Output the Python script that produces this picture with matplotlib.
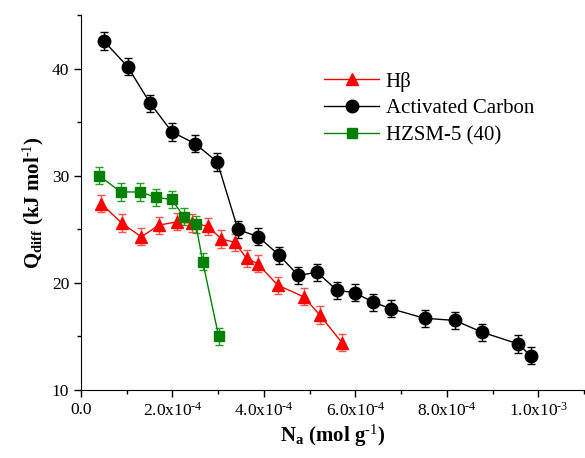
import matplotlib
matplotlib.use("Agg")
import matplotlib.pyplot as plt
from matplotlib.lines import Line2D
from matplotlib.ticker import MultipleLocator, FuncFormatter

plt.rcParams["font.family"] = ["Liberation Serif", "DejaVu Serif"]
plt.rcParams["mathtext.fontset"] = "custom"
plt.rcParams["mathtext.rm"] = "Liberation Serif"
plt.rcParams["mathtext.it"] = "Liberation Serif:italic"
plt.rcParams["mathtext.bf"] = "Liberation Serif:bold"

# data (x in mol/g, y in kJ/mol)
hb_x = [0.44e-4, 0.89e-4, 1.32e-4, 1.70e-4, 2.09e-4, 2.43e-4, 2.77e-4, 3.07e-4,
        3.36e-4, 3.62e-4, 3.86e-4, 4.30e-4, 4.87e-4, 5.22e-4, 5.71e-4]
hb_y = [27.4, 25.6, 24.3, 25.4, 25.7, 25.6, 25.3, 24.1,
        23.8, 22.3, 21.8, 19.8, 18.7, 17.0, 14.4]
hb_err = [0.8] * len(hb_x)

ac_x = [0.50e-4, 1.02e-4, 1.51e-4, 1.99e-4, 2.50e-4, 2.98e-4, 3.43e-4, 3.88e-4,
        4.33e-4, 4.75e-4, 5.16e-4, 5.60e-4, 5.98e-4, 6.39e-4, 6.77e-4, 7.51e-4,
        8.17e-4, 8.77e-4, 9.56e-4, 9.83e-4]
ac_y = [42.6, 40.2, 36.8, 34.1, 33.0, 31.3, 25.0, 24.3,
        22.6, 20.7, 21.0, 19.3, 19.1, 18.2, 17.6, 16.7,
        16.5, 15.4, 14.3, 13.2]
ac_err = [0.8] * len(ac_x)

hz_x = [0.40e-4, 0.87e-4, 1.30e-4, 1.63e-4, 1.98e-4, 2.25e-4, 2.51e-4, 2.66e-4, 3.01e-4]
hz_y = [30.0, 28.5, 28.5, 28.0, 27.8, 26.2, 25.5, 22.0, 15.0]
hz_err = [0.8] * len(hz_x)

series_labels = ["H\u03b2", "Activated Carbon", "HZSM-5 (40)"]


def sci_fmt(v, pos):
    if abs(v) < 1e-12:
        return "0.0"
    exp = -4 if abs(v) < 9.5e-4 else -3
    mant = v / 10 ** exp
    return r"%.1fx10$^{\text{%d}}$" % (mant, exp)


fig = plt.figure(figsize=(5.85, 4.58), dpi=100)
ax = fig.add_axes([0.1385, 0.1485, 0.86, 0.818])

styles = [("red", "#ff5050", "^", 9), ("black", "black", "o", 9), ("#008000", "#20a020", "s", 7)]
data = [(hb_x, hb_y, hb_err), (ac_x, ac_y, ac_err), (hz_x, hz_y, hz_err)]
handles = []
for (x, y, err), (col, ecol, mk, ms), lab in zip(data, styles, series_labels):
    ax.errorbar(x, y, yerr=err, color=col, marker=mk, markersize=ms,
                lw=1.0, capsize=3, elinewidth=1.0, ecolor=ecol)
    handles.append(Line2D([], [], color=col, marker=mk, markersize=ms, lw=1.0, label=lab))

ax.set_xlim(0, 1.1e-3)
ax.set_ylim(10, 45)
ax.xaxis.set_major_locator(MultipleLocator(2e-4))
ax.xaxis.set_minor_locator(MultipleLocator(1e-4))
ax.yaxis.set_major_locator(MultipleLocator(10))
ax.yaxis.set_minor_locator(MultipleLocator(5))
ax.xaxis.set_major_formatter(FuncFormatter(sci_fmt))
ax.spines["top"].set_visible(False)
ax.spines["right"].set_visible(False)
ax.tick_params(which="major", direction="out", length=5, width=1, labelsize=12.5)
ax.tick_params(which="minor", direction="out", length=3, width=1)

ax.set_xlabel(r"$\mathbf{N_a}$ (mol g$^{\mathbf{\text{-1}}}$)", fontsize=15, fontweight="bold", labelpad=2)
ax.set_ylabel(r"$\mathbf{Q_{diff}}$ (kJ mol$^{\mathbf{\text{-1}}}$)", fontsize=15, fontweight="bold", labelpad=4)

ax.legend(handles=handles, loc="upper left", bbox_to_anchor=(0.446, 0.90), frameon=False,
          fontsize=15, handlelength=2.65, handletextpad=0.3, labelspacing=0.35)

fig.savefig("out.png", dpi=100)
